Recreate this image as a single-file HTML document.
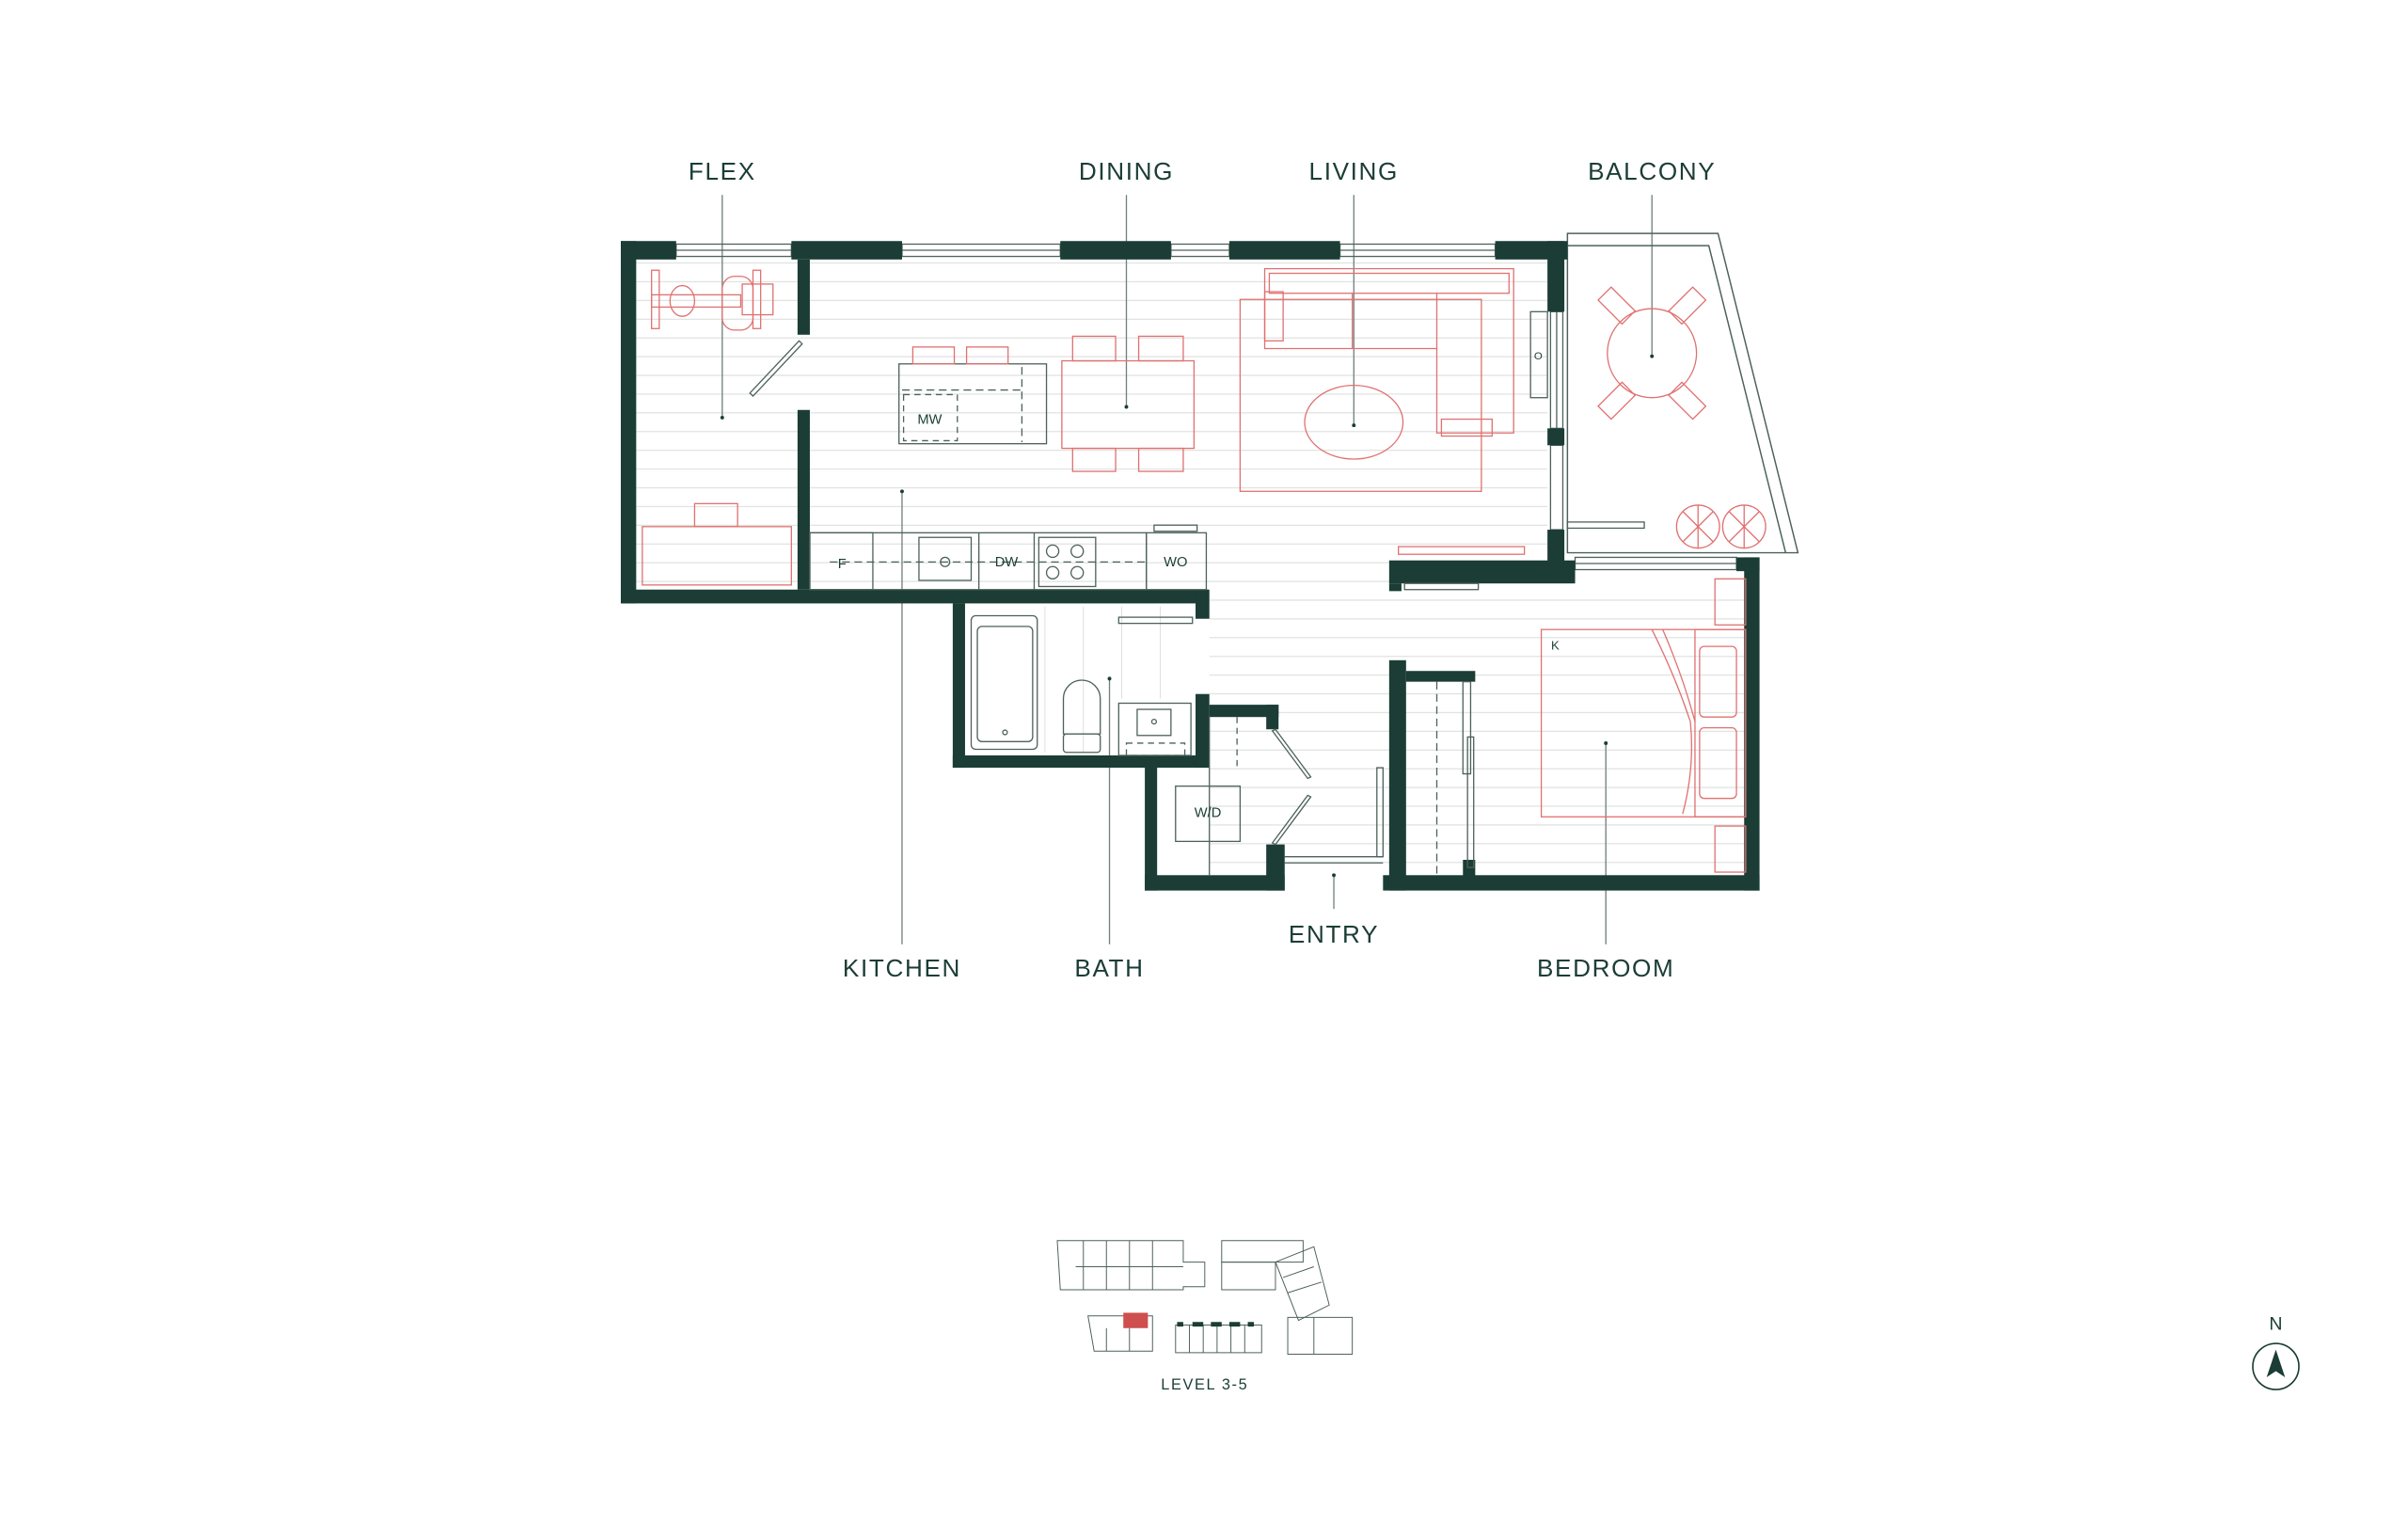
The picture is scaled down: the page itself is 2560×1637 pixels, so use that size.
<!DOCTYPE html>
<html><head><meta charset="utf-8"><style>
html,body{margin:0;padding:0;background:#fff}
svg{display:block}
text{font-family:"Liberation Sans",sans-serif;fill:#1b3d35}
</style></head><body>
<svg width="2560" height="1637" viewBox="0 0 1567 1003" preserveAspectRatio="none" xmlns="http://www.w3.org/2000/svg">
<defs>
<pattern id="fl" x="0" y="0" width="20" height="12.2" patternUnits="userSpaceOnUse">
<line x1="0" y1="0.5" x2="20" y2="0.5" stroke="#dcdfdd" stroke-width="0.7"/>
</pattern>
</defs>
<rect x="414" y="169" width="593" height="215" fill="url(#fl)"/>
<rect x="787" y="380" width="350" height="190" fill="url(#fl)"/>
<g stroke="#dcdfdd" stroke-width="0.6">
<line x1="680" y1="395" x2="680" y2="490"/><line x1="705" y1="395" x2="705" y2="490"/><line x1="730" y1="395" x2="730" y2="455"/><line x1="755" y1="395" x2="755" y2="455"/>
</g>
<g font-size="16" letter-spacing="1" text-anchor="middle">
<text x="470" y="117">FLEX</text>
<text x="733" y="117">DINING</text>
<text x="881" y="117">LIVING</text>
<text x="1075" y="117">BALCONY</text>
<text x="587" y="636">KITCHEN</text>
<text x="722" y="636">BATH</text>
<text x="868" y="614">ENTRY</text>
<text x="1045" y="636">BEDROOM</text>
</g>
<g stroke="#6f7f7a" stroke-width="0.8">
<line x1="470" y1="127" x2="470" y2="272"/>
<line x1="733" y1="127" x2="733" y2="265"/>
<line x1="881" y1="127" x2="881" y2="277"/>
<line x1="1075" y1="127" x2="1075" y2="232"/>
<line x1="587" y1="320" x2="587" y2="615"/>
<line x1="722" y1="442" x2="722" y2="615"/>
<line x1="868" y1="570" x2="868" y2="592"/>
<line x1="1045" y1="484" x2="1045" y2="615"/>
</g>
<g fill="#1b3d35">
<circle cx="470" cy="272" r="1.2"/><circle cx="733" cy="265" r="1.2"/><circle cx="881" cy="277" r="1.2"/><circle cx="1075" cy="232" r="1.2"/><circle cx="587" cy="320" r="1.2"/><circle cx="722" cy="442" r="1.2"/><circle cx="868" cy="570" r="1.2"/><circle cx="1045" cy="484" r="1.2"/>
</g>
<g fill="none" stroke="#4d615b" stroke-width="0.9">
<polygon points="1020,152 1118,152 1170,360 1020,360"/>
<polyline points="1020,160 1112,160 1162,360"/>
</g>
<g stroke="#4d615b" stroke-width="0.8" fill="none">
<rect x="440" y="159" width="75" height="8"/><line x1="440" y1="163" x2="515" y2="163"/>
<rect x="587" y="159" width="103" height="8"/><line x1="587" y1="163" x2="690" y2="163"/>
<rect x="762" y="159" width="38" height="8"/><line x1="762" y1="163" x2="800" y2="163"/>
<rect x="872" y="159" width="101" height="8"/><line x1="872" y1="163" x2="973" y2="163"/>
<rect x="1009" y="203" width="8" height="76"/><line x1="1013" y1="203" x2="1013" y2="279"/>
<rect x="1009" y="290" width="8" height="55"/>
<rect x="1025" y="363" width="105" height="8"/><line x1="1025" y1="367" x2="1130" y2="367"/>
</g>
<g fill="#1b3d35">
<rect x="404" y="157" width="36" height="12"/>
<rect x="515" y="157" width="72" height="12"/>
<rect x="690" y="157" width="72" height="12"/>
<rect x="800" y="157" width="72" height="12"/>
<rect x="973" y="157" width="47" height="12"/>
<rect x="404" y="157" width="10" height="236"/>
<rect x="404" y="384" width="382" height="9"/>
<rect x="778" y="384" width="9" height="19"/>
<rect x="519" y="169" width="8" height="49"/>
<rect x="519" y="267" width="8" height="117"/>
<rect x="1007" y="157" width="11" height="46"/>
<rect x="1007" y="279" width="11" height="11"/>
<rect x="1007" y="345" width="11" height="30"/>
<rect x="904" y="365" width="121" height="15"/>
<rect x="904" y="380" width="8" height="5"/>
<rect x="1130" y="363" width="15" height="9"/>
<rect x="1135" y="363" width="10" height="217"/>
<rect x="900" y="570" width="245" height="10"/>
<rect x="904" y="430" width="11" height="150"/>
<rect x="915" y="437" width="45" height="7"/>
<rect x="952" y="560" width="8" height="15"/>
<rect x="620" y="393" width="8" height="107"/>
<rect x="620" y="492" width="167" height="8"/>
<rect x="778" y="452" width="9" height="48"/>
<rect x="787" y="459" width="45" height="8"/>
<rect x="824" y="459" width="8" height="16"/>
<rect x="745" y="492" width="8" height="88"/>
<rect x="745" y="570" width="91" height="10"/>
<rect x="824" y="550" width="12" height="30"/>
</g>
<g stroke="#4d615b" stroke-width="0.8" fill="none">
<polygon points="488,256 520,222 522,224 490,258"/>
<polygon points="830,475 853,506 851,507 828,476"/>
<polygon points="830,550 853,519 851,518 828,549"/>
<line x1="836" y1="558" x2="900" y2="558"/><line x1="836" y1="562" x2="900" y2="562"/>
<rect x="896" y="500" width="4" height="58"/>
<rect x="728" y="402" width="48" height="4"/>
<rect x="914" y="380" width="48" height="4"/>
<rect x="1020" y="340" width="50" height="4"/>
<line x1="935" y1="444" x2="935" y2="570" stroke-dasharray="5,3"/>
<rect x="952" y="444" width="5" height="60"/><rect x="955" y="480" width="4" height="85"/>
<line x1="805" y1="467" x2="805" y2="500" stroke-dasharray="4,3"/>
<line x1="787" y1="467" x2="787" y2="570"/>
<rect x="527" y="347" width="219" height="37"/>
<rect x="527" y="347" width="41" height="37"/>
<rect x="746" y="347" width="39" height="37"/><rect x="751" y="342" width="28" height="4"/>
<line x1="637" y1="347" x2="637" y2="384"/><line x1="673" y1="347" x2="673" y2="384"/>
<rect x="598" y="350" width="34" height="28"/>
<rect x="676" y="350" width="37" height="32"/>
<circle cx="685" cy="359" r="4"/><circle cx="701" cy="359" r="4"/><circle cx="685" cy="373" r="4"/><circle cx="701" cy="373" r="4"/>
<line x1="540" y1="366" x2="746" y2="366" stroke-dasharray="5,3"/>
<circle cx="615" cy="366" r="3"/>
<rect x="585" y="237" width="96" height="52"/>
<line x1="587" y1="254" x2="665" y2="254" stroke-dasharray="5,3"/>
<line x1="665" y1="239" x2="665" y2="288" stroke-dasharray="5,3"/>
<rect x="588" y="257" width="35" height="30" stroke-dasharray="4,3"/>
<rect x="632" y="401" width="43" height="87" rx="3"/>
<rect x="636" y="408" width="36" height="75" rx="3"/>
<circle cx="654" cy="477" r="1.5"/>
<path d="M692,478 L692,455 A12,12 0 0 1 716,455 L716,478 Z"/>
<rect x="692" y="478" width="24" height="12" rx="2"/>
<rect x="728" y="458" width="47" height="34"/>
<rect x="740" y="462" width="22" height="17"/>
<circle cx="751" cy="470" r="1.5"/>
<rect x="733" y="484" width="38" height="8" stroke-dasharray="4,3"/>
<rect x="765" y="512" width="42" height="36"/>
<rect x="996" y="203" width="11" height="56"/>
</g>
<g font-size="9" text-anchor="middle">
<text x="548" y="370">F</text><text x="655" y="369">DW</text><text x="765" y="369">WO</text>
<text x="605" y="276">MW</text><text x="786" y="532">W/D</text>
<text x="1012" y="423" font-size="8">K</text><text x="1001" y="234" font-size="7">O</text>
</g>
<g stroke="#e07171" stroke-width="0.8" fill="none">
<rect x="807" y="195" width="157" height="125"/>
<path d="M823,175 H985 V282 H935 V227 H823 Z"/>
<rect x="826" y="178" width="156" height="13"/>
<rect x="823" y="190" width="12" height="32"/>
<rect x="938" y="273" width="33" height="11"/>
<line x1="880" y1="191" x2="880" y2="227"/><line x1="935" y1="191" x2="935" y2="227"/>
<ellipse cx="881" cy="275" rx="32" ry="24"/>
<rect x="691" y="235" width="86" height="57"/>
<rect x="698" y="219" width="28" height="16"/><rect x="741" y="219" width="29" height="16"/>
<rect x="698" y="292" width="28" height="15"/><rect x="741" y="292" width="29" height="15"/>
<rect x="594" y="226" width="27" height="11"/><rect x="629" y="226" width="27" height="11"/>
<rect x="418" y="343" width="97" height="38"/><rect x="452" y="328" width="28" height="15"/>
<rect x="424" y="176" width="5" height="38"/><rect x="424" y="192" width="58" height="8"/>
<ellipse cx="444" cy="196" rx="8" ry="10"/><rect x="470" y="180" width="20" height="35" rx="8"/>
<rect x="483" y="185" width="20" height="20"/><rect x="490" y="176" width="5" height="38"/>
<circle cx="1075" cy="230" r="29"/>
<rect x="1041" y="193" width="22" height="12" transform="rotate(45 1052 199)"/>
<rect x="1087" y="193" width="22" height="12" transform="rotate(-45 1098 199)"/>
<rect x="1041" y="255" width="22" height="12" transform="rotate(-45 1052 261)"/>
<rect x="1087" y="255" width="22" height="12" transform="rotate(45 1098 261)"/>
<circle cx="1105" cy="343" r="14"/><circle cx="1135" cy="343" r="14"/>
<path d="M1095,333 l20,20 M1115,333 l-20,20 M1125,333 l20,20 M1145,333 l-20,20 M1105,329 v28 M1135,329 v28"/>
<rect x="910" y="356" width="82" height="5"/>
<rect x="1003" y="410" width="133" height="122"/>
<rect x="1103" y="410" width="33" height="122"/>
<rect x="1106" y="421" width="24" height="46" rx="3"/><rect x="1106" y="474" width="24" height="46" rx="3"/>
<path d="M1075,410 Q1090,440 1100,470 Q1103,500 1095,530"/><path d="M1082,410 Q1095,440 1103,470"/>
<rect x="1116" y="377" width="20" height="30"/><rect x="1116" y="538" width="20" height="30"/>
</g>
<g stroke="#4d615b" stroke-width="0.6" fill="none">
<path d="M688,808 H770 V822 H784 V838 H770 V840 H690 Z"/>
<line x1="705" y1="808" x2="705" y2="840"/><line x1="720" y1="808" x2="720" y2="840"/><line x1="735" y1="808" x2="735" y2="840"/><line x1="750" y1="808" x2="750" y2="840"/><line x1="700" y1="825" x2="770" y2="825"/>
<path d="M795,808 H848 V822 H795 Z"/><path d="M795,822 H830 V840 H795 Z"/>
<path d="M830,822 L855,812 L865,850 L845,860 Z"/>
<line x1="835" y1="832" x2="855" y2="825"/><line x1="838" y1="842" x2="860" y2="835"/>
<path d="M838,858 H880 V882 H838 Z"/><line x1="855" y1="858" x2="855" y2="882"/>
<path d="M708,857 H750 V880 H712 Z"/><line x1="720" y1="865" x2="720" y2="880"/><line x1="735" y1="865" x2="735" y2="880"/>
<rect x="765" y="863" width="56" height="18"/>
<line x1="774" y1="863" x2="774" y2="881"/><line x1="783" y1="863" x2="783" y2="881"/><line x1="792" y1="863" x2="792" y2="881"/><line x1="801" y1="863" x2="801" y2="881"/><line x1="810" y1="863" x2="810" y2="881"/>
</g>
<rect x="731" y="855" width="16" height="10" fill="#cf4e4e"/>
<g fill="#1b3d35"><rect x="766" y="861" width="4" height="3"/><rect x="776" y="861" width="7" height="3"/><rect x="788" y="861" width="7" height="3"/><rect x="800" y="861" width="7" height="3"/><rect x="812" y="861" width="4" height="3"/></g>
<text x="784" y="905" font-size="10" letter-spacing="1" text-anchor="middle">LEVEL 3-5</text>
<text x="1481" y="866" font-size="12" text-anchor="middle">N</text>
<ellipse cx="1481" cy="890" rx="15" ry="15" fill="none" stroke="#1b3d35" stroke-width="1"/>
<polygon points="1481,879 1487,897 1481,893 1475,897" fill="#1b3d35"/>
</svg>
</body></html>
